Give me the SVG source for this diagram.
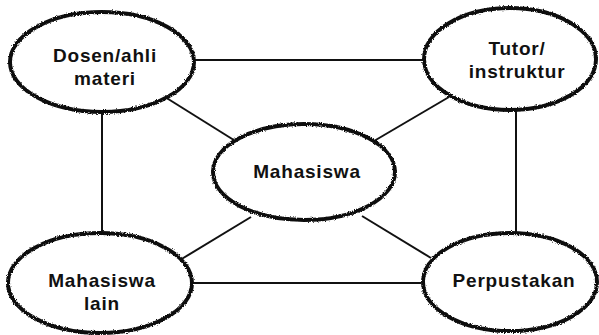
<svg xmlns="http://www.w3.org/2000/svg" width="599" height="335" viewBox="0 0 599 335">
<defs>
<filter id="rough" x="-10%" y="-10%" width="120%" height="120%">
<feTurbulence type="fractalNoise" baseFrequency="0.9" numOctaves="2" seed="3" result="n"/>
<feDisplacementMap in="SourceGraphic" in2="n" scale="3" xChannelSelector="R" yChannelSelector="G"/>
</filter>
</defs>
<style>
.node ellipse{fill:#fff;stroke:#111;stroke-width:4;filter:url(#rough)}
.node text{font-family:"Liberation Sans",Arial,sans-serif;font-weight:bold;font-size:19px;letter-spacing:0.8px;fill:#111;text-anchor:middle}
.edges line{stroke:#111;stroke-width:2}
</style>
<rect width="599" height="335" fill="#fff"/>
<g class="edges" id="connectors">
<line x1="195" y1="60" x2="424" y2="60"/>
<line x1="102" y1="112" x2="102" y2="233"/>
<line x1="516" y1="110" x2="516" y2="233"/>
<line x1="192" y1="283" x2="421" y2="283"/>
<line x1="165" y1="97" x2="237" y2="142"/>
<line x1="449" y1="97" x2="374" y2="141"/>
<line x1="180" y1="260" x2="251" y2="217"/>
<line x1="362" y1="216" x2="431" y2="258"/>
</g>
<g class="node" id="dosen">
<ellipse cx="102" cy="62" rx="92" ry="50"/>
<text x="105" y="62">Dosen/ahli</text>
<text x="105" y="85">materi</text>
</g>
<g class="node" id="tutor">
<ellipse cx="510" cy="59" rx="86" ry="51"/>
<text x="517" y="55">Tutor/</text>
<text x="517" y="78">instruktur</text>
</g>
<g class="node" id="mahasiswa">
<ellipse cx="304" cy="172" rx="91" ry="48"/>
<text x="307" y="178">Mahasiswa</text>
</g>
<g class="node" id="mahasiswa-lain">
<ellipse cx="100" cy="283" rx="92" ry="50"/>
<text x="102" y="287">Mahasiswa</text>
<text x="102" y="310">lain</text>
</g>
<g class="node" id="perpustakan">
<ellipse cx="510" cy="282" rx="87" ry="49"/>
<text x="514" y="287">Perpustakan</text>
</g>
</svg>
